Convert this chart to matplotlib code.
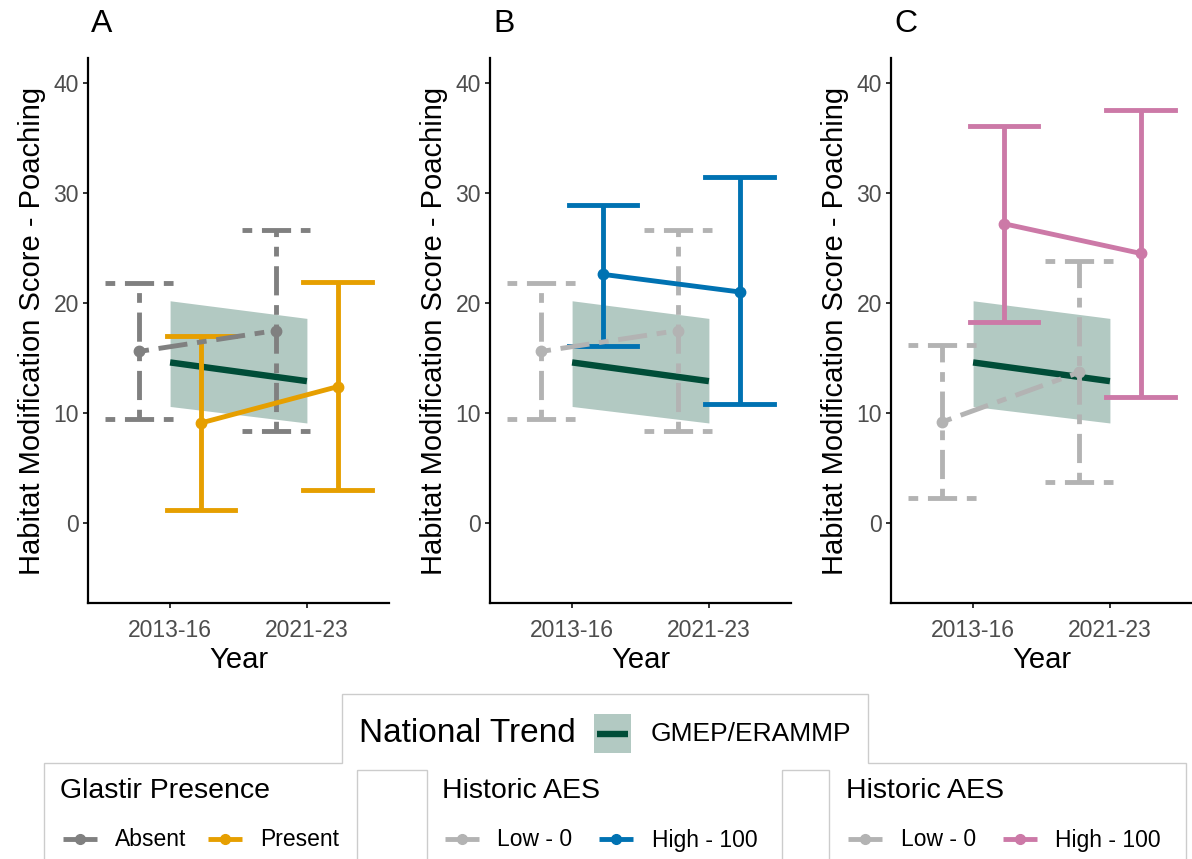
import matplotlib
matplotlib.use("Agg")
import matplotlib.pyplot as plt
from matplotlib.patches import Rectangle, Polygon
import numpy as np

plt.rcParams['font.family'] = ['Liberation Sans', 'DejaVu Sans']

# 数据
years = ["2013-16", "2021-23"]
panel_labels = ["A", "B", "C"]

# 全国趋势 GMEP/ERAMMP
trend_mean = [14.6, 12.9]
trend_lo = [10.6, 9.1]
trend_hi = [20.2, 18.6]

# A: Glastir Presence
absent_mean = [15.6, 17.5]
absent_lo = [9.5, 8.4]
absent_hi = [21.8, 26.6]
present_mean = [9.1, 12.4]
present_lo = [1.2, 3.0]
present_hi = [17.0, 21.9]

# B: Historic AES
aes_b_low_mean = [15.6, 17.5]
aes_b_low_lo = [9.5, 8.4]
aes_b_low_hi = [21.8, 26.6]
aes_b_high_mean = [22.6, 21.0]
aes_b_high_lo = [16.1, 10.8]
aes_b_high_hi = [28.9, 31.4]

# C: Historic AES
aes_c_low_mean = [9.2, 13.7]
aes_c_low_lo = [2.3, 3.7]
aes_c_low_hi = [16.2, 23.8]
aes_c_high_mean = [27.2, 24.5]
aes_c_high_lo = [18.3, 11.5]
aes_c_high_hi = [36.1, 37.5]

GREEN = '#004D38'
DARK_GREY = '#808080'
LIGHT_GREY = '#B3B3B3'
ORANGE = '#E69F00'
BLUE = '#0072B2'
PINK = '#CC79A7'
TWODASH = (0, (2, 2, 6, 2))
LW = 3.5

W, H = 1192, 859
fig = plt.figure(figsize=(W / 100, H / 100), dpi=100)


def px_rect(left, top, right, bottom):
    return [left / W, 1 - bottom / H, (right - left) / W, (bottom - top) / H]


def draw_group(ax, xs, mean, lo, hi, color, ls):
    for x, m, l, h in zip(xs, mean, lo, hi):
        ax.plot([x, x], [l, h], color=color, lw=LW, ls=ls, solid_capstyle='butt', zorder=3)
        ax.plot([x - 0.25, x + 0.25], [l, l], color=color, lw=LW, ls=ls, zorder=3)
        ax.plot([x - 0.25, x + 0.25], [h, h], color=color, lw=LW, ls=ls, zorder=3)
    ax.plot(xs, mean, color=color, lw=LW, ls=ls, zorder=4)
    ax.plot(xs, mean, 'o', color=color, ms=7.5, zorder=5)


def draw_panel(ax, label, low, high):
    x = np.arange(1, len(years) + 1)
    ax.fill_between(x, trend_lo, trend_hi, color=GREEN, alpha=0.3, lw=0, zorder=1)
    ax.plot(x, trend_mean, color=GREEN, lw=4.6, solid_capstyle='butt', zorder=2)
    draw_group(ax, x - 0.225, *low)
    draw_group(ax, x + 0.225, *high)
    ax.set_xlim(0.4, 2.6)
    ax.set_ylim(-7.25, 42.25)
    ax.set_xticks(x)
    ax.set_xticklabels(years)
    ax.set_yticks([0, 10, 20, 30, 40])
    for s in ['top', 'right']:
        ax.spines[s].set_visible(False)
    for s in ['left', 'bottom']:
        ax.spines[s].set_linewidth(1.6)
        ax.spines[s].set_color('black')
    ax.tick_params(length=3.6, width=1.4, color='#333333', labelcolor='#4D4D4D',
                   labelsize=16.5)
    ax.tick_params(axis='x', pad=8)
    ax.tick_params(axis='y', pad=3)
    ax.set_xlabel('Year', fontsize=21, labelpad=3)
    ax.set_ylabel('Habitat Modification Score - Poaching', fontsize=21, labelpad=5)
    ax.text(0.01, 1.0 + 34 / 545, label, transform=ax.transAxes, fontsize=23,
            ha='left', va='center')


lefts = [88, 490, 891]
groups = [
    ((absent_mean, absent_lo, absent_hi, DARK_GREY, TWODASH),
     (present_mean, present_lo, present_hi, ORANGE, '-')),
    ((aes_b_low_mean, aes_b_low_lo, aes_b_low_hi, LIGHT_GREY, TWODASH),
     (aes_b_high_mean, aes_b_high_lo, aes_b_high_hi, BLUE, '-')),
    ((aes_c_low_mean, aes_c_low_lo, aes_c_low_hi, LIGHT_GREY, TWODASH),
     (aes_c_high_mean, aes_c_high_lo, aes_c_high_hi, PINK, '-')),
]
for left, label, (low, high) in zip(lefts, panel_labels, groups):
    ax = fig.add_axes(px_rect(left, 58, left + 301, 603))
    draw_panel(ax, label, low, high)

# 图例区域（像素坐标）
leg = fig.add_axes([0, 0, 1, 1], zorder=-1)
leg.set_xlim(0, W)
leg.set_ylim(H, 0)
leg.axis('off')

box = '#CCCCCC'
leg.add_patch(Polygon([(44, 880), (44, 763), (342, 763), (342, 694), (868, 694),
                       (868, 763), (1186, 763), (1186, 880)],
                      closed=False, fill=False, edgecolor=box, lw=1))
leg.add_patch(Rectangle((357, 770), 70, 110, fill=False, edgecolor=box, lw=1))
leg.add_patch(Rectangle((782, 770), 47, 110, fill=False, edgecolor=box, lw=1))

leg.text(359, 734, 'National Trend', fontsize=24, va='center', ha='left')
leg.add_patch(Rectangle((594, 714), 37, 39, color=GREEN, alpha=0.3, lw=0))
leg.plot([597, 628], [734, 734], color=GREEN, lw=4.6, solid_capstyle='butt')
leg.text(651, 734, 'GMEP/ERAMMP', fontsize=19, va='center', ha='left')


def legend_block(x0, title, items):
    leg.text(x0, 791, title, fontsize=20.5, va='center', ha='left')
    for kx, tx, color, text in items:
        leg.plot([kx, kx + 34], [839, 839], color=color, lw=LW, solid_capstyle='butt')
        leg.plot([kx + 17], [839], 'o', color=color, ms=7)
        leg.text(tx, 840, text, fontsize=16.5, va='center', ha='left')


legend_block(60, 'Glastir Presence', [(63, 115, DARK_GREY, 'Absent'),
                                      (208, 260, ORANGE, 'Present')])
legend_block(442, 'Historic AES', [(445, 497, LIGHT_GREY, 'Low - 0'),
                                   (599, 652, BLUE, 'High - 100')])
legend_block(846, 'Historic AES', [(848, 901, LIGHT_GREY, 'Low - 0'),
                                   (1003, 1055, PINK, 'High - 100')])

fig.savefig('out.png', dpi=100)
